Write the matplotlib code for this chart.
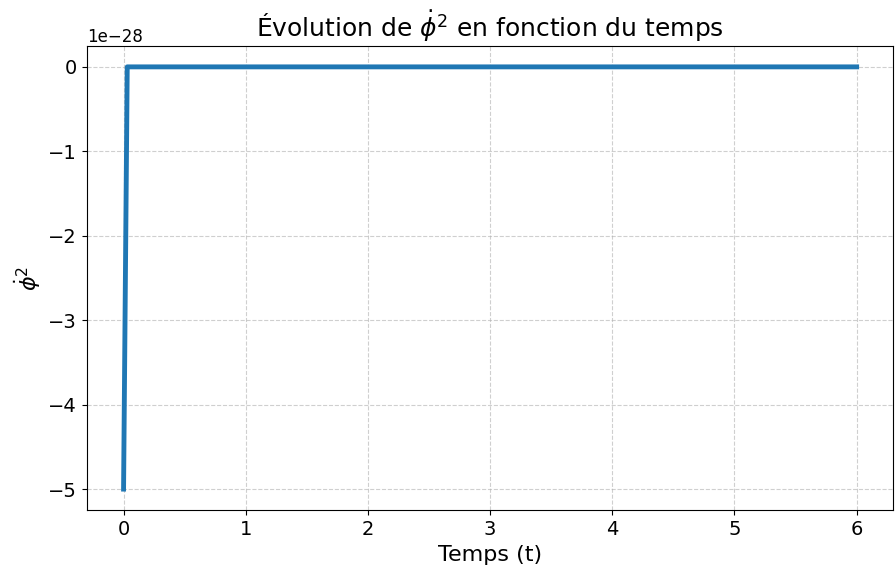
import matplotlib
matplotlib.use("Agg")
import matplotlib.pyplot as plt

# data
t = [0.0, 0.03, 6.0]
phi_dot_sq = [-5e-28, 0.0, 0.0]

fig, ax = plt.subplots(figsize=(8.96, 5.72), dpi=100)
ax.plot(t, phi_dot_sq, color='#1f77b4', linewidth=3.5)
ax.set_title(r'Évolution de $\dot{\phi}^2$ en fonction du temps', fontsize=18)
ax.set_xlabel('Temps (t)', fontsize=16)
ax.set_ylabel(r'$\dot{\phi}^2$', fontsize=16)
ax.tick_params(labelsize=14)
ax.yaxis.get_offset_text().set_fontsize(12)
ax.grid(True, linestyle='--', alpha=0.6)

fig.subplots_adjust(left=0.097, right=0.997, top=0.92, bottom=0.108)
fig.savefig('out.png')
